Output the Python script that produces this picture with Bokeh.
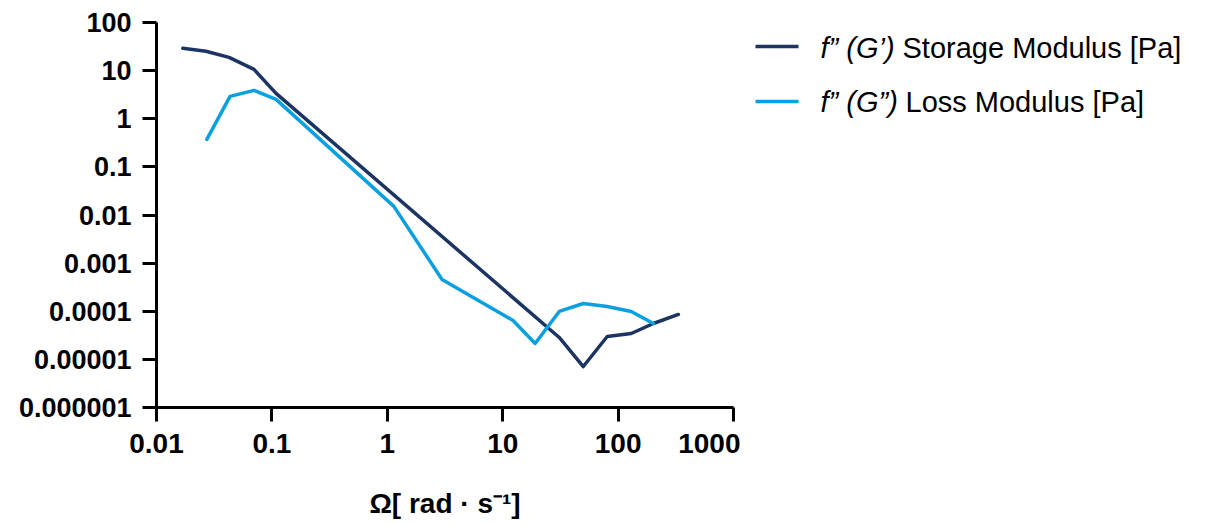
from bokeh.plotting import figure
from bokeh.models import FixedTicker, Range1d
from bokeh.layouts import row
from bokeh.core.properties import value
from bokeh.embed import file_html
from bokeh.resources import INLINE

# ---- data ----
storage_freq = [0.0169, 0.0268, 0.0425, 0.070, 0.1086, 30.9, 49.9, 80.5, 130, 202, 333]
storage_mod = [29.1, 25.2, 18.9, 10.6, 3.37, 2.85e-5, 7.1e-6, 2.99e-5, 3.45e-5, 5.57e-5, 8.57e-5]

loss_freq = [0.0273, 0.0434, 0.070, 0.1087, 1.14, 2.98, 12.3, 19.1, 30.9, 49.9, 80.5, 130, 202]
loss_mod = [0.373, 2.92, 3.89, 2.53, 0.0151, 4.58e-4, 6.44e-5, 2.14e-5, 9.9e-5, 1.45e-4, 1.26e-4, 9.9e-5, 5.57e-5]

x_ticks = [0.01, 0.1, 1, 10, 100, 1000]
x_tick_labels = ["0.01", "0.1", "1", "10", "100", "1000"]
y_ticks = [1e-6, 1e-5, 1e-4, 1e-3, 1e-2, 0.1, 1, 10, 100]
y_tick_labels = ["0.000001", "0.00001", "0.0001", "0.001", "0.01", "0.1", "1", "10", "100"]

x_title = "\u03a9[ rad \u00b7 s\u207b\u00b9]"
series_names = ["Storage Modulus [Pa]", "Loss Modulus [Pa]"]
series_prefix = ["f\u201d (G\u2019)", "f\u201d (G\u201d)"]

DARK = "#1c3461"
LIGHT = "#0aa0e0"

H = 525
PW = 740             # main figure width
LW = 1213 - PW       # legend figure width
FL, FR, FT, FB = 156, 733, 22, 407

p = figure(width=PW, height=H, x_axis_type="log", y_axis_type="log",
           x_range=(0.01, 1000), y_range=(1e-6, 100),
           output_backend="svg", toolbar_location=None, title=None,
           min_border_left=FL, min_border_right=PW - FR,
           min_border_top=FT, min_border_bottom=H - FB)
p.outline_line_color = None
p.grid.visible = False

for ax, ticks, labels, size, standoff in ((p.xaxis[0], x_ticks, x_tick_labels, "28px", 12),
                                          (p.yaxis[0], y_ticks, y_tick_labels, "27px", 11)):
    ax.ticker = FixedTicker(ticks=ticks, minor_ticks=[])
    ax.major_label_overrides = {t: l for t, l in zip(ticks, labels)}
    ax.axis_line_width = 3
    ax.axis_line_color = "black"
    ax.major_tick_line_width = 3
    ax.major_tick_line_color = "black"
    ax.major_tick_in = 0
    ax.major_tick_out = 14
    ax.minor_tick_line_color = None
    ax.major_label_text_font = "Liberation Sans"
    ax.major_label_text_font_style = "bold"
    ax.major_label_text_font_size = size
    ax.major_label_text_color = "black"
    ax.major_label_standoff = standoff

p.xaxis.axis_label = x_title
p.xaxis.axis_label_text_font = "Liberation Sans"
p.xaxis.axis_label_text_font_style = "bold"
p.xaxis.axis_label_text_font_size = "28px"
p.xaxis.axis_label_text_color = "black"
p.xaxis.axis_label_standoff = 32

p.line(storage_freq, storage_mod, line_color=DARK, line_width=3.5,
       line_join="round", line_cap="round")
p.line(loss_freq, loss_mod, line_color=LIGHT, line_width=3.5,
       line_join="round", line_cap="round")

# ---- legend panel (page-pixel coordinates, y downward; frame aligned with main frame) ----
lg = figure(width=LW, height=H, x_range=Range1d(0, LW), y_range=Range1d(FB, FT),
            output_backend="svg", toolbar_location=None, title=None,
            x_axis_location=None, y_axis_location=None,
            min_border_left=0, min_border_right=0,
            min_border_top=FT, min_border_bottom=H - FB)
lg.outline_line_color = None
lg.grid.visible = False

colors = [DARK, LIGHT]
row_y = [46, 101]
row_base = [47, 101]
name_x = [902, 905]
for i in range(2):
    lg.line([755 - PW, 798 - PW], [row_y[i], row_y[i]], line_color=colors[i], line_width=3.5)
    lg.text([820 - PW], [row_base[i]], text=[series_prefix[i]],
            text_font=value("Liberation Sans"), text_font_style="italic",
            text_font_size="29px", text_color="black", text_baseline="alphabetic")
    lg.text([name_x[i] - PW], [row_base[i]], text=[series_names[i]],
            text_font=value("Liberation Sans"),
            text_font_size="29px", text_color="black", text_baseline="alphabetic")

layout = row(p, lg, spacing=0)
open("out.html", "w").write(file_html(layout, INLINE))
